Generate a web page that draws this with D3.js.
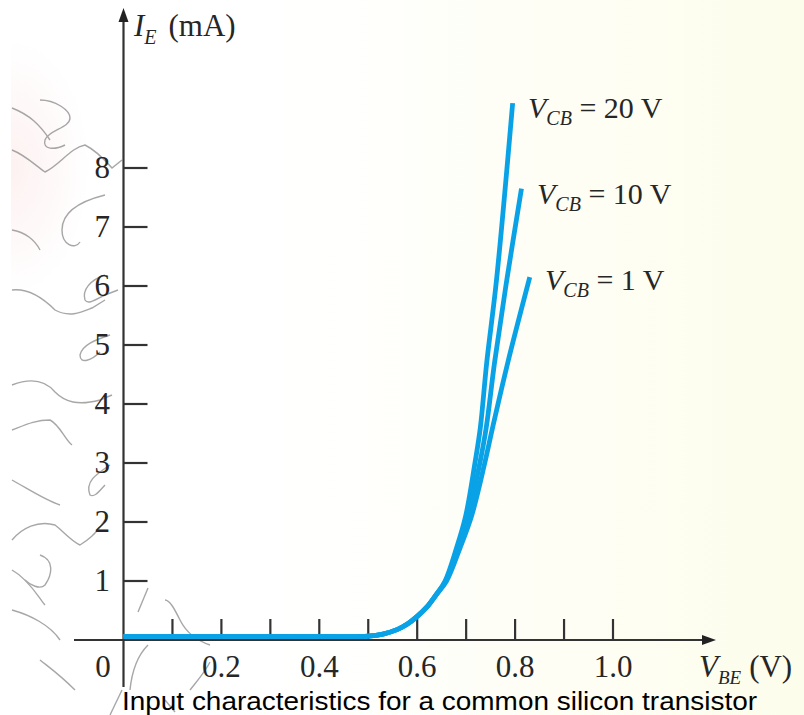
<!DOCTYPE html>
<html><head><meta charset="utf-8">
<script src="https://cdn.jsdelivr.net/npm/d3@7"></script>
<style>html,body{margin:0;padding:0;background:#fff;}svg{display:block;}</style>
</head><body>
<script>
// ---- data ----
const xTicks = [0.1,0.2,0.3,0.4,0.5,0.6,0.7,0.8,0.9,1.0];
const xTickLabels = ["0.2","0.4","0.6","0.8","1.0"];
const yTicks = [1,2,3,4,5,6,7,8];
const seriesVcb = ["20","10","1"];
const commonVbe = [0,0.1,0.2,0.3,0.4,0.5,0.53,0.56,0.58,0.6,0.62,0.64];
const commonIe  = [0.06,0.06,0.06,0.06,0.06,0.065,0.1,0.18,0.27,0.4,0.56,0.78];
const vbe20 = [0.657,0.68,0.699,0.718,0.729,0.742,0.762,0.795];
const ie20  = [1.0,1.55,2.1,3.0,3.6,4.7,6.1,9.1];
const vbe10 = [0.658,0.683,0.704,0.728,0.741,0.758,0.783,0.813];
const ie10  = [1.0,1.55,2.1,3.0,3.6,4.7,6.1,7.65];
const vbe1  = [0.66,0.687,0.711,0.738,0.754,0.785,0.83];
const ie1   = [1.0,1.55,2.1,3.0,3.6,4.7,6.15];
const caption = "Input characteristics for a common silicon transistor";

const W = 804, H = 715;
const svg = d3.select("body").append("svg").attr("width", W).attr("height", H);
const defs = svg.append("defs");
const lg = defs.append("linearGradient").attr("id","bg").attr("x1","0").attr("x2","1").attr("y1","0").attr("y2","0");
lg.append("stop").attr("offset","0").attr("stop-color","#ffffff");
lg.append("stop").attr("offset","0.35").attr("stop-color","#ffffff");
lg.append("stop").attr("offset","1").attr("stop-color","#fdfdec");
const rg = defs.append("radialGradient").attr("id","pink").attr("cx","0").attr("cy","0.25").attr("r","0.1")
  .attr("gradientTransform","scale(1,1.8) translate(0,-0.12)");
rg.append("stop").attr("offset","0").attr("stop-color","#fce8e8").attr("stop-opacity",0.6);
rg.append("stop").attr("offset","1").attr("stop-color","#fce8e8").attr("stop-opacity",0);
svg.append("rect").attr("width",W).attr("height",H).attr("fill","url(#bg)");
svg.append("rect").attr("x",11).attr("width",W-11).attr("height",H).attr("fill","url(#pink)");
svg.append("rect").attr("width",11).attr("height",H).attr("fill","#fff");

// decorative squiggles (background ornament)
const deco = svg.append("g").attr("fill","none").attr("stroke","#8a8a8a").attr("stroke-width",1.4).attr("opacity",0.75);
[
 "M40,100 C55,100 70,110 70,118 C70,128 48,130 45,140 C42,150 55,150 65,145",
 "M12,108 C30,115 40,125 50,140",
 "M12,150 C25,155 35,165 45,172 C60,165 70,148 85,145 C95,150 105,160 112,168 L122,160",
 "M105,195 C85,200 62,210 62,230 C62,245 75,250 80,242",
 "M12,230 C25,232 35,240 40,250",
 "M105,275 C90,280 82,290 85,300 C88,305 95,300 105,295 L118,290",
 "M12,290 C30,288 45,300 55,310 C70,318 82,312 92,308 L105,300",
 "M110,335 C95,340 82,345 80,355 C80,365 92,360 100,352",
 "M12,385 C30,378 45,380 55,392 C65,402 78,406 100,400 L112,395",
 "M12,430 C25,425 35,420 50,420 C60,425 65,440 72,445",
 "M110,465 C95,475 85,482 90,495 C95,498 100,490 105,485",
 "M12,480 C30,490 45,500 60,505",
 "M12,540 C22,528 38,520 55,525 C62,530 70,540 80,545 C88,540 95,535 105,520",
 "M40,555 C55,560 52,575 45,585 C40,590 30,585 25,580",
 "M12,570 C30,580 40,600 45,605",
 "M148,588 L138,612",
 "M165,600 C170,600 175,610 180,620 C185,630 195,640 210,645",
 "M12,610 C30,615 50,625 60,640",
 "M148,645 C138,655 132,670 130,690",
 "M40,660 C50,668 60,675 75,690",
 "M122,690 L110,715",
 "M210,662 C205,672 198,680 190,690",
 "M165,700 L175,712"
].forEach(d => deco.append("path").attr("d", d));

const x0 = 123.5, y0 = 640;
const x = d3.scaleLinear().domain([0,1.0]).range([x0, 613]);
const y = d3.scaleLinear().domain([0,8]).range([y0, 168]);
const axisColor = "#333";

// axes lines
const ax = svg.append("g").attr("stroke",axisColor).attr("stroke-width",2.2);
ax.append("line").attr("x1",74).attr("x2",708).attr("y1",y0).attr("y2",y0);
ax.append("line").attr("x1",x0).attr("x2",x0).attr("y1",687).attr("y2",16);
svg.append("path").attr("d",`M716,${y0} L702,${y0-5} L702,${y0+5} Z`).attr("fill","#222");
svg.append("path").attr("d",`M${x0},8 L${x0-5},22 L${x0+5},22 Z`).attr("fill","#222");

// x ticks
ax.selectAll(".xt").data(xTicks).join("line")
  .attr("x1",d=>x(d)).attr("x2",d=>x(d)).attr("y1",y0).attr("y2",y0-21);
// y ticks
ax.selectAll(".yt").data(yTicks).join("line")
  .attr("x1",x0).attr("x2",x0+24).attr("y1",d=>y(d)).attr("y2",d=>y(d));

const serif = "'Liberation Serif','Times New Roman',serif";
const tickFont = 31;
const txtCol = "#262626";
svg.selectAll(".xl").data(xTickLabels).join("text")
  .attr("x",d=>x(+d)).attr("y",677).attr("text-anchor","middle")
  .attr("font-family",serif).attr("font-size",tickFont).attr("fill",txtCol).text(d=>d);
svg.append("text").attr("x",103).attr("y",677).attr("text-anchor","middle")
  .attr("font-family",serif).attr("font-size",tickFont).attr("fill",txtCol).text("0");
svg.selectAll(".yl").data(yTicks).join("text")
  .attr("x",110).attr("y",d=>y(d)+10).attr("text-anchor","end")
  .attr("font-family",serif).attr("font-size",tickFont).attr("fill",txtCol).text(d=>d);

// axis titles
const yt = svg.append("text").attr("x",134).attr("y",36).attr("font-family",serif).attr("font-size",31).attr("fill",txtCol);
yt.append("tspan").attr("font-style","italic").text("I");
yt.append("tspan").attr("font-style","italic").attr("font-size",20).attr("dy",8).text("E");
yt.append("tspan").attr("dy",-8).attr("dx",12).text("(mA)");

const xt = svg.append("text").attr("x",699).attr("y",677).attr("font-family",serif).attr("font-size",31).attr("fill",txtCol);
xt.append("tspan").attr("font-style","italic").text("V");
xt.append("tspan").attr("font-style","italic").attr("font-size",19).attr("dy",7).text("BE");
xt.append("tspan").attr("dy",-7).attr("dx",8).text("(V)");

// curves
const blue = "#0aa2e6";
const line = d3.line().x(d=>x(d[0])).y(d=>y(d[1])).curve(d3.curveCatmullRom.alpha(0.5));
const curves = [
  [vbe20, ie20],
  [vbe10, ie10],
  [vbe1, ie1]
].map(([v,i]) => commonVbe.map((d,k)=>[d, commonIe[k]]).concat(v.map((d,k)=>[d, i[k]])));
svg.append("g").selectAll("path").data(curves).join("path")
  .attr("d", line).attr("fill","none").attr("stroke",blue).attr("stroke-width",4.8)
  .attr("stroke-linecap","butt").attr("stroke-linejoin","round");

// curve labels
const labelPos = [[0, 528, 118],[1, 537, 204],[2, 545, 290]];
labelPos.forEach(([k, lx, ly]) => {
  const t = svg.append("text").attr("x",lx).attr("y",ly).attr("font-family",serif).attr("font-size",30).attr("fill",txtCol);
  t.append("tspan").attr("font-style","italic").text("V");
  t.append("tspan").attr("font-style","italic").attr("font-size",20).attr("dy",7).text("CB");
  t.append("tspan").attr("dy",-7).text(" = " + seriesVcb[k] + " V");
});

// caption
svg.append("text").attr("x",122).attr("y",710).attr("font-family","'Liberation Sans',Arial,sans-serif")
  .attr("font-size",26).attr("fill","#000").attr("textLength",635).attr("lengthAdjust","spacingAndGlyphs").text(caption);
</script>
</body></html>
